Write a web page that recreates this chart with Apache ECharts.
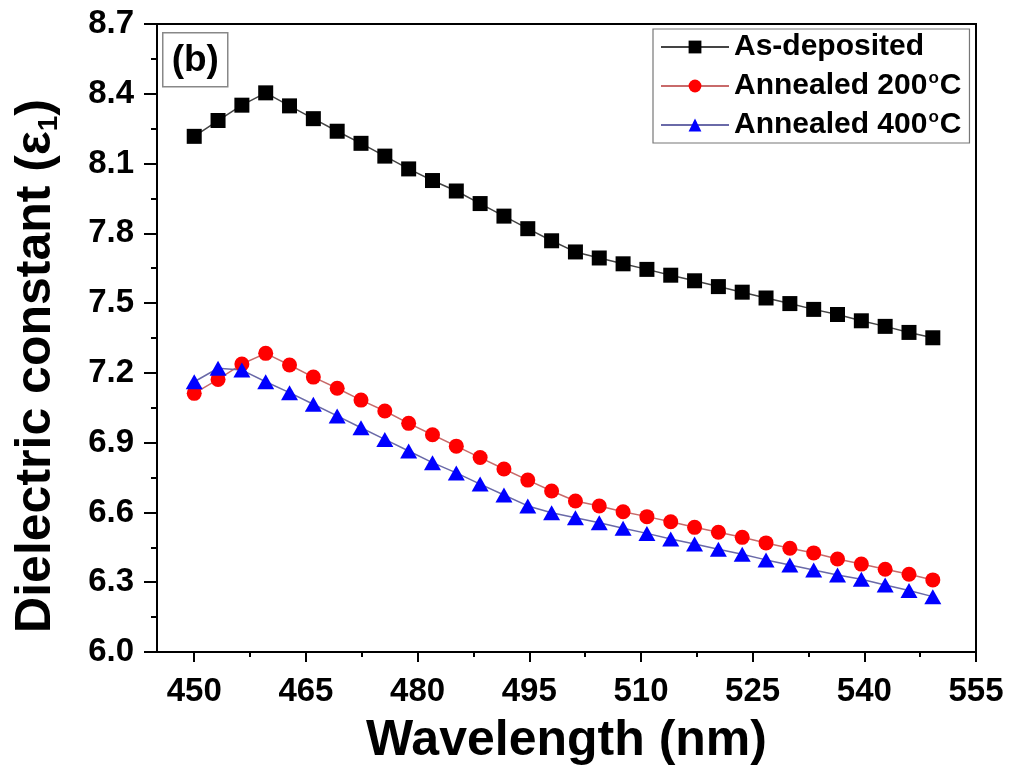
<!DOCTYPE html>
<html>
<head>
<meta charset="utf-8">
<script src="https://cdn.jsdelivr.net/npm/echarts@6/dist/echarts.min.js"></script>
<style>
  html, body { margin: 0; padding: 0; background: #fff; }
  #chart { width: 1011px; height: 776px; }
</style>
</head>
<body>
<div id="chart"></div>
<script>
// Wavelength samples (nm)
const wavelengths = [
  450.0, 453.2, 456.4, 459.6, 462.8, 466.0, 469.2, 472.4, 475.6, 478.8,
  482.0, 485.2, 488.4, 491.6, 494.8, 498.0, 501.2, 504.4, 507.6, 510.8,
  514.0, 517.2, 520.4, 523.6, 526.8, 530.0, 533.2, 536.4, 539.6, 542.8,
  546.0, 549.2
];

// Real part of the dielectric constant for each film
const asDeposited = [
  8.217, 8.285, 8.351, 8.404, 8.348, 8.293, 8.239, 8.187, 8.132, 8.077,
  8.027, 7.982, 7.928, 7.874, 7.820, 7.768, 7.720, 7.694, 7.669, 7.645,
  7.620, 7.596, 7.571, 7.547, 7.522, 7.498, 7.473, 7.451, 7.424, 7.400,
  7.374, 7.351
];
const annealed200 = [
  7.112, 7.172, 7.238, 7.284, 7.234, 7.182, 7.134, 7.083, 7.036, 6.983,
  6.934, 6.885, 6.836, 6.787, 6.739, 6.692, 6.649, 6.628, 6.603, 6.582,
  6.560, 6.536, 6.515, 6.493, 6.469, 6.446, 6.426, 6.400, 6.378, 6.356,
  6.334, 6.310
];
const annealed400 = [
  7.162, 7.220, 7.212, 7.162, 7.115, 7.065, 7.015, 6.964, 6.914, 6.864,
  6.814, 6.770, 6.722, 6.675, 6.628, 6.599, 6.577, 6.556, 6.532, 6.510,
  6.486, 6.464, 6.442, 6.420, 6.396, 6.374, 6.353, 6.331, 6.313, 6.288,
  6.264, 6.238
];

// Axis ticks
const xMajorTicks = [450, 465, 480, 495, 510, 525, 540, 555];
const xMinorTicks = [457.5, 472.5, 487.5, 502.5, 517.5, 532.5, 547.5];

const seriesNames = ['As-deposited', 'Annealed 200°C', 'Annealed 400°C'];
const legendLabels = {
  'As-deposited': '{t|As-deposited}',
  'Annealed 200°C': '{t|Annealed 200}{sup|o}{t|C}',
  'Annealed 400°C': '{t|Annealed 400}{sup|o}{t|C}'
};

const FONT = '"Liberation Sans", Arial, Helvetica, sans-serif';

function pairs(ys) {
  return wavelengths.map((x, i) => [x, ys[i]]);
}

const chart = echarts.init(document.getElementById('chart'), null, { renderer: 'canvas' });

chart.setOption({
  backgroundColor: '#fff',
  animation: false,
  grid: {
    left: 157, right: 35, top: 24, bottom: 124,
    show: true, borderColor: '#000', borderWidth: 2, backgroundColor: 'transparent'
  },
  legend: {
    orient: 'vertical',
    left: 653, top: 29,
    padding: [3, 8, 3, 7],
    itemGap: 8,
    itemWidth: 68,
    itemHeight: 16,
    borderColor: '#777', borderWidth: 1.2,
    backgroundColor: '#fff',
    data: seriesNames,
    formatter: name => legendLabels[name],
    textStyle: {
      rich: {
        t: { fontFamily: FONT, fontWeight: 'bold', fontSize: 30, color: '#000', lineHeight: 32 },
        sup: { fontFamily: FONT, fontWeight: 'bold', fontSize: 17, color: '#000', verticalAlign: 'top', lineHeight: 32, padding: [0, 1, 12, 1] }
      }
    }
  },
  xAxis: [
    {
      type: 'value', min: 445, max: 555, position: 'bottom',
      name: 'Wavelength (nm)', nameLocation: 'middle', nameGap: 64,
      nameTextStyle: { fontFamily: FONT, fontWeight: 'bold', fontSize: 50, color: '#000' },
      axisLine: { show: true, lineStyle: { color: '#000', width: 2 } },
      axisTick: { show: true, customValues: xMajorTicks, length: 10, lineStyle: { color: '#000', width: 2 } },
      axisLabel: {
        customValues: xMajorTicks, margin: 23,
        fontFamily: FONT, fontWeight: 'bold', fontSize: 33, color: '#000'
      },
      splitLine: { show: false }
    },
    {
      type: 'value', min: 445, max: 555, position: 'bottom',
      axisLine: { show: false },
      axisTick: { show: true, customValues: xMinorTicks, length: 5, lineStyle: { color: '#000', width: 2 } },
      axisLabel: { show: false },
      splitLine: { show: false }
    }
  ],
  yAxis: {
    type: 'value', min: 6.0, max: 8.7, interval: 0.3,
    name: '{a|Dielectric constant (ε}{s|1}{a|)}', nameLocation: 'middle', nameGap: 94,
    nameTextStyle: {
      // extra trailing space nudges the rotated title toward the lower end of the axis
      padding: [0, 56, 0, 0],
      rich: {
        a: { fontFamily: FONT, fontWeight: 'bold', fontSize: 50, color: '#000', lineHeight: 54 },
        s: { fontFamily: FONT, fontWeight: 'bold', fontSize: 28, color: '#000', verticalAlign: 'bottom', lineHeight: 54, padding: [16, 0, 0, 0] }
      }
    },
    axisLine: { show: true, lineStyle: { color: '#000', width: 2 } },
    axisTick: { show: true, length: 13, lineStyle: { color: '#000', width: 2 } },
    minorTick: { show: true, splitNumber: 2, length: 6, lineStyle: { color: '#000', width: 2 } },
    axisLabel: {
      margin: 23, formatter: v => v.toFixed(1),
      fontFamily: FONT, fontWeight: 'bold', fontSize: 33, color: '#000'
    },
    splitLine: { show: false },
    minorSplitLine: { show: false }
  },
  graphic: [
    {
      type: 'group', left: 162, top: 32,
      children: [
        { type: 'rect', shape: { x: 0, y: 0, width: 65, height: 54 },
          style: { fill: '#fff', stroke: '#888', lineWidth: 1.5 } },
        { type: 'text', x: 32.5, y: 28,
          style: { text: '(b)', font: 'bold 37px ' + FONT, fill: '#000', align: 'center', verticalAlign: 'middle' } }
      ]
    }
  ],
  series: [
    {
      name: seriesNames[0], type: 'line', data: pairs(asDeposited),
      symbol: 'rect', symbolSize: 15,
      itemStyle: { color: '#000' },
      lineStyle: { color: '#444', width: 1.5 }
    },
    {
      name: seriesNames[1], type: 'line', data: pairs(annealed200),
      symbol: 'circle', symbolSize: 15,
      itemStyle: { color: '#ff0000' },
      lineStyle: { color: '#c86a6a', width: 1.5 }
    },
    {
      name: seriesNames[2], type: 'line', data: pairs(annealed400),
      symbol: 'triangle', symbolSize: [17, 15],
      itemStyle: { color: '#0000ff' },
      lineStyle: { color: '#6a6aa8', width: 1.5 }
    }
  ]
});
</script>
</body>
</html>
